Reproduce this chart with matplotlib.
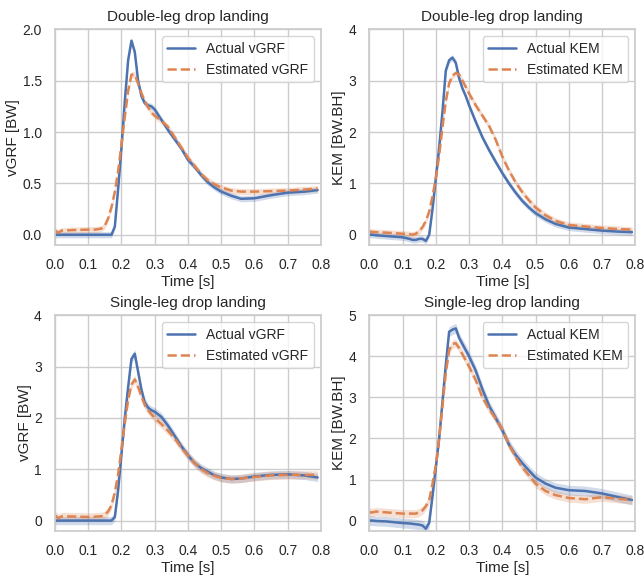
import numpy as np
import matplotlib
matplotlib.use("Agg")
import matplotlib.pyplot as plt
import seaborn as sns

# time axis [s]
time = [0.00, 0.01, 0.02, 0.05, 0.10, 0.12, 0.13, 0.14, 0.15, 0.16, 0.17,
        0.18, 0.19, 0.20, 0.21, 0.22, 0.23, 0.24, 0.25, 0.26, 0.27, 0.28,
        0.29, 0.30, 0.32, 0.34, 0.36, 0.38, 0.40, 0.42, 0.44, 0.46, 0.48,
        0.50, 0.53, 0.56, 0.60, 0.65, 0.70, 0.75, 0.79]

# double-leg drop landing
dl_vgrf_act = [0, 0, 0, 0, 0, 0, 0, 0, 0, 0, 0,
               0.08, 0.45, 0.85, 1.3, 1.7, 1.89, 1.78, 1.5, 1.35, 1.28, 1.26,
               1.25, 1.22, 1.12, 1.02, 0.93, 0.84, 0.73, 0.66, 0.58, 0.51, 0.46,
               0.42, 0.38, 0.35, 0.355, 0.385, 0.41, 0.42, 0.435]
dl_vgrf_est = [0.04, 0.02, 0.04, 0.045, 0.05, 0.05, 0.055, 0.06, 0.09, 0.16, 0.27,
               0.42, 0.62, 0.88, 1.15, 1.4, 1.56, 1.56, 1.47, 1.38, 1.30, 1.24,
               1.19, 1.16, 1.11, 1.05, 0.95, 0.85, 0.75, 0.67, 0.59, 0.53, 0.49,
               0.46, 0.43, 0.42, 0.42, 0.425, 0.43, 0.44, 0.45]
dl_kem_act = [0.0, 0.0, -0.01, -0.025, -0.05, -0.08, -0.1, -0.1, -0.08, -0.08, -0.12,
              0.0, 0.5, 1.1, 1.7, 2.4, 3.2, 3.4, 3.45, 3.35, 3.05, 2.85,
              2.7, 2.52, 2.2, 1.9, 1.65, 1.42, 1.2, 1.0, 0.82, 0.66, 0.53,
              0.42, 0.3, 0.21, 0.14, 0.11, 0.08, 0.06, 0.05]
dl_kem_est = [0.06, 0.055, 0.05, 0.04, 0.02, 0.01, 0.0, 0.02, 0.07, 0.15, 0.27,
              0.45, 0.75, 1.1, 1.55, 2.1, 2.6, 2.95, 3.1, 3.15, 3.12, 3.0,
              2.88, 2.75, 2.52, 2.32, 2.12, 1.85, 1.52, 1.25, 1.02, 0.83, 0.67,
              0.53, 0.38, 0.27, 0.19, 0.16, 0.13, 0.11, 0.10]

# single-leg drop landing
sl_vgrf_act = [0, 0, 0, 0, 0, 0, 0, 0, 0, 0, 0,
               0.07, 0.6, 1.3, 2.0, 2.6, 3.15, 3.25, 2.9, 2.55, 2.3, 2.2,
               2.15, 2.12, 2.02, 1.85, 1.65, 1.45, 1.27, 1.12, 1.02, 0.95, 0.88,
               0.84, 0.81, 0.82, 0.86, 0.89, 0.9, 0.88, 0.84]
sl_vgrf_est = [0.1, 0.05, 0.08, 0.08, 0.07, 0.075, 0.08, 0.085, 0.11, 0.18, 0.3,
               0.55, 0.9, 1.4, 1.9, 2.35, 2.65, 2.75, 2.6, 2.42, 2.25, 2.15,
               2.07, 2.0, 1.88, 1.75, 1.6, 1.42, 1.26, 1.12, 1.0, 0.92, 0.87,
               0.83, 0.81, 0.82, 0.85, 0.88, 0.89, 0.89, 0.89]
sl_kem_act = [0.0, 0.0, -0.01, -0.02, -0.06, -0.07, -0.08, -0.09, -0.1, -0.12, -0.2,
              -0.05, 0.6, 1.3, 2.0, 2.9, 3.8, 4.6, 4.65, 4.68, 4.45, 4.3,
              4.15, 4.0, 3.65, 3.2, 2.8, 2.5, 2.2, 1.85, 1.6, 1.4, 1.22,
              1.05, 0.9, 0.8, 0.74, 0.72, 0.66, 0.57, 0.5]
sl_kem_est = [0.2, 0.2, 0.22, 0.2, 0.17, 0.17, 0.17, 0.17, 0.2, 0.25, 0.35,
              0.5, 0.9, 1.35, 2.0, 2.8, 3.6, 4.15, 4.3, 4.32, 4.2, 4.05,
              3.9, 3.75, 3.42, 3.0, 2.72, 2.48, 2.22, 1.85, 1.55, 1.3, 1.1,
              0.9, 0.72, 0.62, 0.55, 0.52, 0.57, 0.53, 0.5]

# half width of the shaded band (actual, estimated)
dl_vgrf_sd = [0.03, 0.03]
dl_kem_sd = [0.06, 0.06]
sl_vgrf_sd = [0.08, 0.08]
sl_kem_sd = [0.12, 0.10]

sns.set_theme(style="whitegrid")
plt.rcParams['font.family'] = ['Liberation Sans', 'DejaVu Sans']

blue = sns.color_palette("deep")[0]
orange = sns.color_palette("deep")[1]

fig, axes = plt.subplots(2, 2, figsize=(6.44, 5.77), dpi=100)
fig.subplots_adjust(left=0.0854, right=0.9865, top=0.949, bottom=0.080,
                    wspace=0.182, hspace=0.326)

panels = [
    (axes[0, 0], dl_vgrf_act, dl_vgrf_est, dl_vgrf_sd, 'Double-leg drop landing', 'vGRF [BW]', 'vGRF', (-0.1, 2.0)),
    (axes[0, 1], dl_kem_act, dl_kem_est, dl_kem_sd, 'Double-leg drop landing', 'KEM [BW.BH]', 'KEM', (-0.2, 4)),
    (axes[1, 0], sl_vgrf_act, sl_vgrf_est, sl_vgrf_sd, 'Single-leg drop landing', 'vGRF [BW]', 'vGRF', (-0.2, 4)),
    (axes[1, 1], sl_kem_act, sl_kem_est, sl_kem_sd, 'Single-leg drop landing', 'KEM [BW.BH]', 'KEM', (-0.25, 5)),
]

t = np.array(time)
for ax, act, est, sd, title, ylabel, name, ylim in panels:
    act = np.array(act)
    est = np.array(est)
    ax.fill_between(t, act - sd[0], act + sd[0], color=blue, alpha=0.25, lw=0)
    ax.fill_between(t, est - sd[1], est + sd[1], color=orange, alpha=0.25, lw=0)
    ax.plot(t, act, color=blue, lw=1.8, label='Actual ' + name)
    ax.plot(t, est, color=orange, lw=1.8, ls='--', label='Estimated ' + name)
    ax.set_xlim(0, 0.8)
    ax.set_ylim(*ylim)
    ax.set_xticks(np.arange(0, 0.81, 0.1))
    ax.set_title(title, fontsize=11)
    ax.set_xlabel('Time [s]', fontsize=11, labelpad=2)
    ax.set_ylabel(ylabel, fontsize=11, labelpad=1.5)
    ax.tick_params(labelsize=10)
    ax.legend(loc='upper right', fontsize=10)

fig.savefig('out.png')
